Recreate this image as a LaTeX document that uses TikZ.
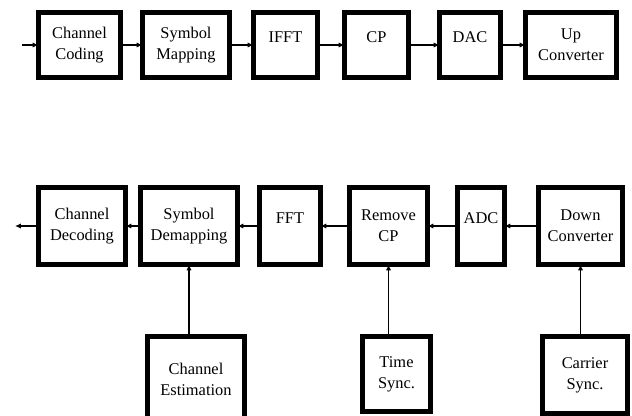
\documentclass[tikz,border=0pt]{standalone}
\usepackage{fontspec}
\setmainfont{Liberation Serif}
\usetikzlibrary{arrows.meta}

\begin{document}
\begin{tikzpicture}[
    x=0.03cm, y=-0.03cm,
    every node/.style={font=\fontsize{14}{18}\selectfont},
    blk/.style={draw, line width=4.2pt, outer sep=0pt, align=center, inner sep=0pt},
    lift/.style={text depth=14pt},
    sig/.style={-{Latex[length=5pt,width=4.5pt]}, line width=1.1pt}
]
\clip (0,0) rectangle (632,416);

% transmitter
\node[blk, minimum width={82*0.03cm}, minimum height={65*0.03cm}] (chcod) at (79.5,45) {Channel\\Coding};
\node[blk, minimum width={87*0.03cm}, minimum height={65*0.03cm}] (symmap) at (186,45) {Symbol\\Mapping};
\node[blk, lift, minimum width={64*0.03cm}, minimum height={65*0.03cm}] (ifft) at (285.5,45) {IFFT};
\node[blk, lift, minimum width={64*0.03cm}, minimum height={65*0.03cm}] (cp) at (376.5,45) {CP};
\node[blk, lift, minimum width={61*0.03cm}, minimum height={65*0.03cm}] (dac) at (470,45) {DAC};
\node[blk, minimum width={91*0.03cm}, minimum height={65*0.03cm}] (upconv) at (571,45) {Up\\Converter};
\coordinate (txin) at (22,45);

\draw[sig] (txin) -- (chcod);
\draw[sig] (chcod) -- (symmap);
\draw[sig] (symmap) -- (ifft);
\draw[sig] (ifft) -- (cp);
\draw[sig] (cp) -- (dac);
\draw[sig] (dac) -- (upconv);

% receiver
\node[blk, minimum width={87*0.03cm}, minimum height={77*0.03cm}] (chdec) at (82,226) {Channel\\Decoding};
\node[blk, minimum width={97*0.03cm}, minimum height={77*0.03cm}] (symdem) at (189,226) {Symbol\\Demapping};
\node[blk, lift, minimum width={61*0.03cm}, minimum height={77*0.03cm}] (fft) at (290,226) {FFT};
\node[blk, minimum width={78*0.03cm}, minimum height={77*0.03cm}] (rmcp) at (388.5,226) {Remove\\CP};
\node[blk, lift, minimum width={47*0.03cm}, minimum height={77*0.03cm}] (adc) at (481,226) {ADC};
\node[blk, minimum width={84*0.03cm}, minimum height={77*0.03cm}] (downconv) at (580.5,226) {Down\\Converter};
\coordinate (rxout) at (15,226);

\draw[sig] (downconv) -- (adc);
\draw[sig] (adc) -- (rmcp);
\draw[sig] (rmcp) -- (fft);
\draw[sig] (fft) -- (symdem);
\draw[sig] (symdem) -- (chdec);
\draw[sig] (chdec) -- (rxout);

% estimation and sync
\node[blk, minimum width={97*0.03cm}, minimum height={85*0.03cm}] (chest) at (196,379) {Channel\\Estimation};
\node[blk, minimum width={68*0.03cm}, minimum height={75*0.03cm}] (tsync) at (396.5,374) {Time\\Sync.};
\node[blk, minimum width={85*0.03cm}, minimum height={77*0.03cm}] (csync) at (585,375) {Carrier\\Sync.};

\draw[sig] (chest.north -| symdem.south) -- (symdem.south);
\draw[sig] (tsync.north -| rmcp.south) -- (rmcp.south);
\draw[sig] (csync.north -| downconv.south) -- (downconv.south);
\end{tikzpicture}
\end{document}
